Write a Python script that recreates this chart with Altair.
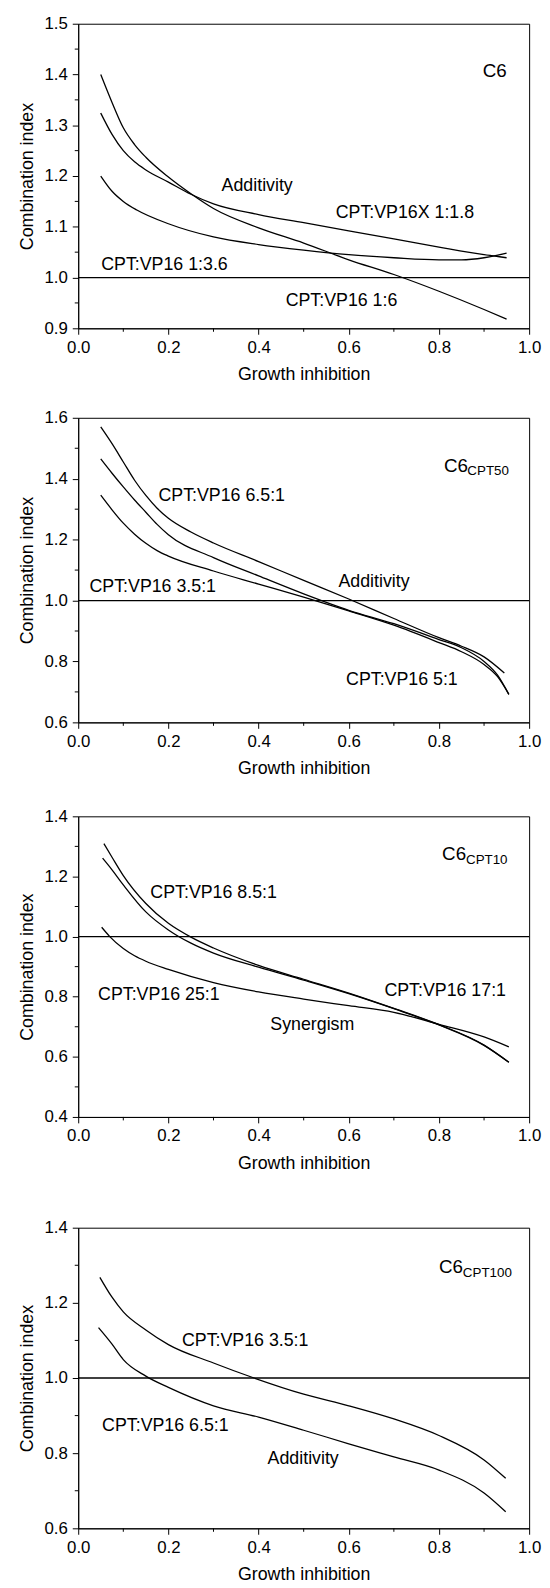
import altair as alt
import pandas as pd

FONT = "Liberation Sans"
W = 456

X_MAJOR = [0.0, 0.2, 0.4, 0.6, 0.8, 1.0]
X_MINOR = [0.1, 0.3, 0.5, 0.7, 0.9]

# ---------------- Panel 1 : C6 ----------------
p1_x_16 = [0.05, 0.075, 0.1, 0.125, 0.15, 0.2, 0.25, 0.3, 0.4, 0.5, 0.6, 0.7, 0.8, 0.9, 0.95]
p1_y_16 = [1.400, 1.345, 1.295, 1.262, 1.237, 1.198, 1.165, 1.136, 1.098, 1.068, 1.035, 1.006, 0.973, 0.937, 0.918]
p1_x_118 = [0.05, 0.075, 0.1, 0.125, 0.15, 0.2, 0.25, 0.3, 0.4, 0.5, 0.6, 0.7, 0.8, 0.9, 0.95]
p1_y_118 = [1.324, 1.282, 1.250, 1.228, 1.212, 1.188, 1.164, 1.145, 1.124, 1.108, 1.092, 1.076, 1.060, 1.045, 1.039]
p1_x_136 = [0.05, 0.075, 0.1, 0.13, 0.2, 0.3, 0.4, 0.5, 0.6, 0.7, 0.8, 0.85, 0.9, 0.95]
p1_y_136 = [1.200, 1.170, 1.150, 1.133, 1.106, 1.080, 1.065, 1.054, 1.045, 1.039, 1.035, 1.035, 1.039, 1.048]
p1_ydom = [0.9, 1.5]
p1_ymajor = [0.9, 1.0, 1.1, 1.2, 1.3, 1.4, 1.5]
p1_yminor = [0.95, 1.05, 1.15, 1.25, 1.35, 1.45]
p1_lab_t = ["Additivity", "CPT:VP16X 1:1.8", "CPT:VP16 1:3.6", "CPT:VP16 1:6"]
p1_lab_x = [0.318, 0.571, 0.051, 0.460]
p1_lab_y = [1.181, 1.128, 1.025, 0.953]
p1_main = ("C6", 0.897, 1.407)
p1_sub = None

# ---------------- Panel 2 : C6 CPT50 ----------------
p2_x_65 = [0.05, 0.075, 0.1, 0.125, 0.15, 0.175, 0.2, 0.25, 0.3, 0.4, 0.5, 0.6, 0.7, 0.8, 0.85, 0.9, 0.945]
p2_y_65 = [1.570, 1.515, 1.455, 1.395, 1.345, 1.303, 1.270, 1.225, 1.189, 1.128, 1.066, 1.005, 0.941, 0.878, 0.850, 0.815, 0.762]
p2_x_5 = [0.05, 0.075, 0.1, 0.125, 0.15, 0.175, 0.2, 0.3, 0.4, 0.5, 0.6, 0.7, 0.8, 0.85, 0.9, 0.93, 0.955]
p2_y_5 = [1.465, 1.418, 1.373, 1.330, 1.290, 1.250, 1.216, 1.141, 1.081, 1.022, 0.968, 0.924, 0.872, 0.845, 0.800, 0.755, 0.692]
p2_x_35 = [0.05, 0.075, 0.1, 0.125, 0.15, 0.175, 0.2, 0.3, 0.4, 0.5, 0.6, 0.7, 0.8, 0.85, 0.9, 0.93, 0.955]
p2_y_35 = [1.346, 1.298, 1.254, 1.218, 1.188, 1.164, 1.146, 1.097, 1.054, 1.011, 0.966, 0.919, 0.862, 0.832, 0.790, 0.750, 0.692]
p2_ydom = [0.6, 1.6]
p2_ymajor = [0.6, 0.8, 1.0, 1.2, 1.4, 1.6]
p2_yminor = [0.7, 0.9, 1.1, 1.3, 1.5]
p2_lab_t = ["CPT:VP16 6.5:1", "Additivity", "CPT:VP16 3.5:1", "CPT:VP16 5:1"]
p2_lab_x = [0.178, 0.577, 0.025, 0.594]
p2_lab_y = [1.343, 1.062, 1.043, 0.740]
p2_main = ("C6", 0.811, 1.443)
p2_sub = ("CPT50", 0.863, 1.425)

# ---------------- Panel 3 : C6 CPT10 ----------------
p3_x_a = [0.057, 0.075, 0.1, 0.15, 0.2, 0.25, 0.3, 0.4, 0.5, 0.6, 0.7, 0.8, 0.9, 0.955]
p3_y_a = [1.309, 1.264, 1.203, 1.110, 1.044, 0.998, 0.962, 0.904, 0.858, 0.812, 0.761, 0.707, 0.639, 0.582]
p3_x_b = [0.054, 0.075, 0.1, 0.15, 0.2, 0.25, 0.3, 0.4, 0.5, 0.6, 0.7, 0.8, 0.9, 0.955]
p3_y_b = [1.261, 1.222, 1.172, 1.082, 1.022, 0.978, 0.945, 0.898, 0.855, 0.810, 0.760, 0.706, 0.638, 0.582]
p3_x_25 = [0.052, 0.07, 0.1, 0.125, 0.15, 0.2, 0.3, 0.4, 0.5, 0.6, 0.7, 0.8, 0.9, 0.955]
p3_y_25 = [1.031, 1.000, 0.960, 0.936, 0.918, 0.891, 0.847, 0.816, 0.792, 0.770, 0.748, 0.708, 0.666, 0.633]
p3_ydom = [0.4, 1.4]
p3_ymajor = [0.4, 0.6, 0.8, 1.0, 1.2, 1.4]
p3_yminor = [0.5, 0.7, 0.9, 1.1, 1.3]
p3_lab_t = ["CPT:VP16 8.5:1", "CPT:VP16 17:1", "CPT:VP16 25:1", "Synergism"]
p3_lab_x = [0.160, 0.679, 0.044, 0.426]
p3_lab_y = [1.145, 0.820, 0.805, 0.705]
p3_main = ("C6", 0.807, 1.274)
p3_sub = ("CPT10", 0.860, 1.254)

# ---------------- Panel 4 : C6 CPT100 ----------------
p4_x_35 = [0.048, 0.075, 0.1, 0.15, 0.2, 0.3, 0.39, 0.5, 0.6, 0.7, 0.8, 0.9, 0.948]
p4_y_35 = [1.268, 1.215, 1.176, 1.128, 1.089, 1.040, 1.000, 0.957, 0.926, 0.891, 0.847, 0.782, 0.733]
p4_x_65 = [0.045, 0.075, 0.1, 0.15, 0.2, 0.3, 0.4, 0.5, 0.6, 0.7, 0.8, 0.9, 0.948]
p4_y_65 = [1.134, 1.090, 1.049, 1.005, 0.975, 0.926, 0.896, 0.861, 0.825, 0.790, 0.755, 0.694, 0.644]
p4_ydom = [0.6, 1.4]
p4_ymajor = [0.6, 0.8, 1.0, 1.2, 1.4]
p4_yminor = [0.7, 0.9, 1.1, 1.3]
p4_lab_t = ["CPT:VP16 3.5:1", "CPT:VP16 6.5:1", "Additivity"]
p4_lab_x = [0.230, 0.053, 0.420]
p4_lab_y = [1.099, 0.871, 0.783]
p4_main = ("C6", 0.800, 1.295)
p4_sub = ("CPT100", 0.853, 1.279)


def panel(series, ydom, ymajor, yminor, lab_t, lab_x, lab_y, main, sub, H):
    frames = []
    for name, (xs, ys) in series.items():
        frames.append(pd.DataFrame({"x": xs, "y": ys, "s": name}))
    lines_df = pd.concat(frames, ignore_index=True)
    xsc = alt.Scale(domain=[0, 1], nice=False, zero=False)
    ysc = alt.Scale(domain=ydom, nice=False, zero=False)
    xax = alt.Axis(values=X_MAJOR, format=".1f", title="Growth inhibition", labelFlush=False)
    yax = alt.Axis(values=ymajor, format=".1f", title="Combination index")

    def X(f):
        return alt.X(f, scale=xsc, axis=xax)

    def Y(f):
        return alt.Y(f, scale=ysc, axis=yax)

    lines = alt.Chart(lines_df).mark_line(
        color="black", strokeWidth=1.3, interpolate="monotone"
    ).encode(x=X("x:Q"), y=Y("y:Q"), detail="s:N")

    ref = alt.Chart(pd.DataFrame({"y": [1.0]})).mark_rule(
        color="black", strokeWidth=1.3
    ).encode(y=Y("y:Q"))

    lab_df = pd.DataFrame({"t": lab_t, "x": lab_x, "y": lab_y})
    labels = alt.Chart(lab_df).mark_text(
        align="left", baseline="middle", font=FONT, fontSize=18, color="black"
    ).encode(x=X("x:Q"), y=Y("y:Q"), text="t:N")

    main_df = pd.DataFrame({"t": [main[0]], "x": [main[1]], "y": [main[2]]})
    main_txt = alt.Chart(main_df).mark_text(
        align="left", baseline="middle", font=FONT, fontSize=19, color="black"
    ).encode(x=X("x:Q"), y=Y("y:Q"), text="t:N")
    layers = [lines, ref, labels, main_txt]
    if sub is not None:
        sub_df = pd.DataFrame({"t": [sub[0]], "x": [sub[1]], "y": [sub[2]]})
        layers.append(alt.Chart(sub_df).mark_text(
            align="left", baseline="middle", font=FONT, fontSize=13.5, color="black"
        ).encode(x=X("x:Q"), y=Y("y:Q"), text="t:N"))

    xminor = alt.Chart(pd.DataFrame({"x": X_MINOR})).mark_rule(
        color="black", strokeWidth=1
    ).encode(x=X("x:Q"), y=alt.value(H), y2=alt.value(H + 3.5))
    yminor_ch = alt.Chart(pd.DataFrame({"y": yminor})).mark_rule(
        color="black", strokeWidth=1
    ).encode(y=Y("y:Q"), x=alt.value(0), x2=alt.value(-3.5))
    layers += [xminor, yminor_ch]
    return alt.layer(*layers).properties(width=W, height=H)


c1 = panel({"1:6": (p1_x_16, p1_y_16), "1:1.8": (p1_x_118, p1_y_118), "1:3.6": (p1_x_136, p1_y_136)},
           p1_ydom, p1_ymajor, p1_yminor, p1_lab_t, p1_lab_x, p1_lab_y, p1_main, p1_sub, 308)
c2 = panel({"6.5:1": (p2_x_65, p2_y_65), "5:1": (p2_x_5, p2_y_5), "3.5:1": (p2_x_35, p2_y_35)},
           p2_ydom, p2_ymajor, p2_yminor, p2_lab_t, p2_lab_x, p2_lab_y, p2_main, p2_sub, 308)
c3 = panel({"a": (p3_x_a, p3_y_a), "b": (p3_x_b, p3_y_b), "25:1": (p3_x_25, p3_y_25)},
           p3_ydom, p3_ymajor, p3_yminor, p3_lab_t, p3_lab_x, p3_lab_y, p3_main, p3_sub, 304)
c4 = panel({"3.5:1": (p4_x_35, p4_y_35), "6.5:1": (p4_x_65, p4_y_65)},
           p4_ydom, p4_ymajor, p4_yminor, p4_lab_t, p4_lab_x, p4_lab_y, p4_main, p4_sub, 304)

top2 = alt.vconcat(c1, c2, spacing=23.5).resolve_scale(x="independent", y="independent")
top3 = alt.vconcat(top2, c3, spacing=28.5).resolve_scale(x="independent", y="independent")
chart = alt.vconcat(top3, c4, spacing=45.5).resolve_scale(x="independent", y="independent")

chart = chart.properties(
    padding={"left": 9, "top": -3, "right": 0, "bottom": 0}
).configure_axis(
    domainColor="black", tickColor="black", labelColor="black", titleColor="black",
    labelFont=FONT, titleFont=FONT, labelFontSize=17, titleFontSize=18,
    titleFontWeight="normal", tickSize=6, labelPadding=5, grid=False,
    domainWidth=1, tickWidth=1,
).configure_axisX(titlePadding=11).configure_axisY(titlePadding=8).configure_view(
    stroke="black", strokeWidth=1
)

chart.save("out.html", embed_options={"renderer": "svg", "actions": False})
